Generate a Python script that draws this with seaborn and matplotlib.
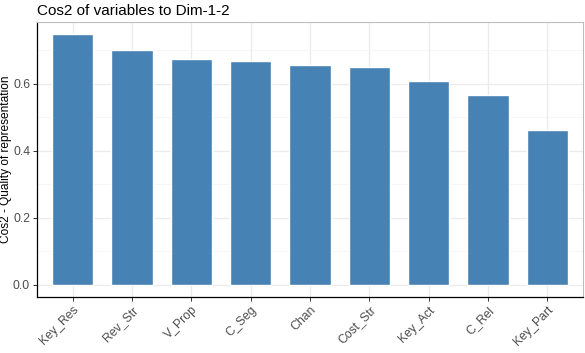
import matplotlib
matplotlib.use("Agg")
import matplotlib.pyplot as plt
import seaborn as sns
import pandas as pd
from matplotlib.ticker import MultipleLocator

# Werte
variables = ['Key_Res', 'Rev_Str', 'V_Prop', 'C_Seg', 'Chan', 'Cost_Str', 'Key_Act', 'C_Rel', 'Key_Part']
cos2 = [0.748, 0.700, 0.674, 0.668, 0.656, 0.650, 0.608, 0.566, 0.461]

df = pd.DataFrame({'variable': variables, 'cos2': cos2})

sns.set_theme(style='whitegrid')
plt.rcParams['font.family'] = ['Liberation Sans', 'DejaVu Sans']

fig = plt.figure(figsize=(5.85, 3.53), dpi=100)
ax = fig.add_axes([0.0632, 0.1586, 0.9334, 0.7791])

sns.barplot(data=df, x='variable', y='cos2', color='#4682B4', saturation=1,
            width=0.7, ax=ax)

ax.set_xlim(-0.6, len(variables) - 0.4)
ax.set_ylim(-0.0374, 0.785)
ax.yaxis.set_minor_locator(MultipleLocator(0.1))
ax.set_yticks([0.0, 0.2, 0.4, 0.6])
ax.set_yticklabels(['0.0', '0.2', '0.4', '0.6'])

ax.grid(True, which='major', color='#EBEBEB', linewidth=0.9)
ax.grid(True, which='minor', axis='y', color='#F3F3F3', linewidth=0.5)
ax.set_axisbelow(True)

for side in ['top', 'right']:
    ax.spines[side].set_color('#BDBDBD')
    ax.spines[side].set_linewidth(0.8)
for side in ['left', 'bottom']:
    ax.spines[side].set_color('black')
    ax.spines[side].set_linewidth(0.9)

ax.tick_params(axis='both', which='major', length=3, width=0.7, color='#333333',
               labelsize=8.8, labelcolor='#4D4D4D', left=True, bottom=True, pad=2)
ax.tick_params(axis='y', which='minor', length=0)
plt.setp(ax.get_xticklabels(), rotation=45, ha='right', rotation_mode='anchor')

ax.set_xlabel('')
ax.set_ylabel('Cos2 - Quality of representation', fontsize=8.6, color='black', labelpad=1)
ax.set_title('Cos2 of variables to Dim-1-2', fontsize=11, loc='left', x=0.0, pad=5,
             color='black')

fig.savefig('out.png', dpi=100)
